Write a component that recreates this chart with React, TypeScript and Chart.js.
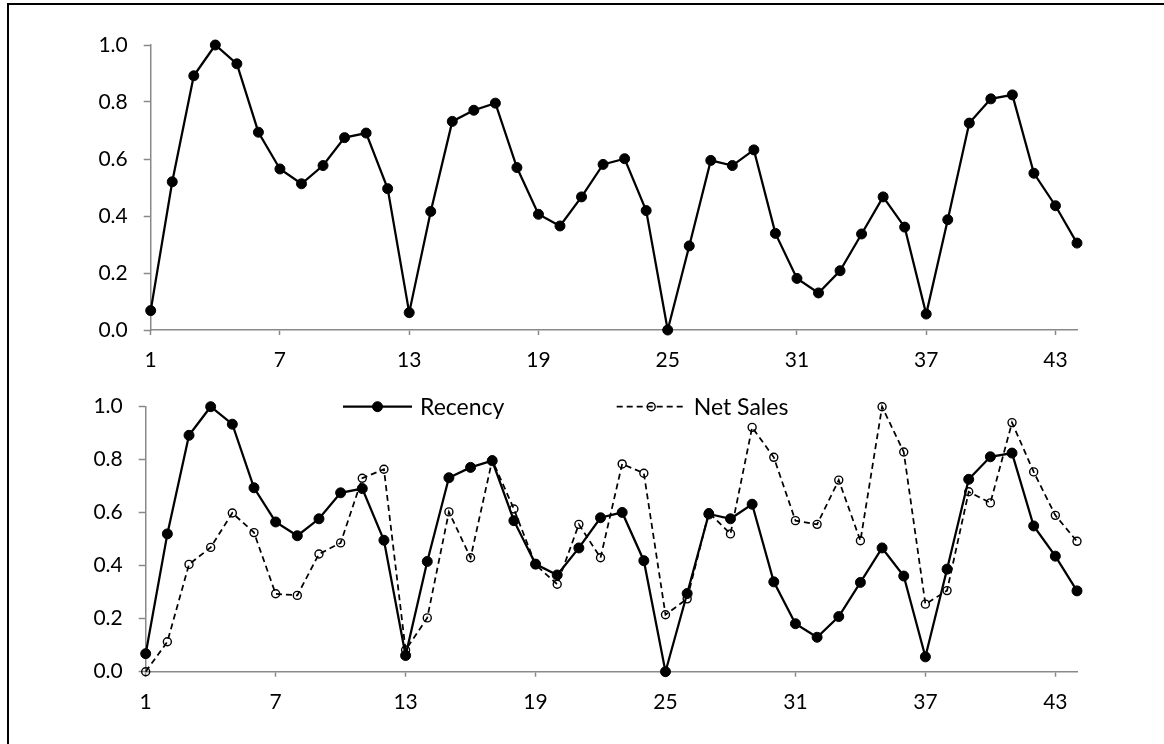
import React, { useEffect, useRef } from 'react';
import { Chart, registerables } from 'chart.js';

Chart.register(...registerables);

// Period numbers along the horizontal axis
const periods = [
  '1', '2', '3', '4', '5', '6', '7', '8', '9', '10', '11',
  '12', '13', '14', '15', '16', '17', '18', '19', '20', '21', '22',
  '23', '24', '25', '26', '27', '28', '29', '30', '31', '32', '33',
  '34', '35', '36', '37', '38', '39', '40', '41', '42', '43', '44',
];

// Normalised recency per period
const recency = [
  0.068, 0.520, 0.892, 1.0, 0.934, 0.694, 0.565, 0.513, 0.577, 0.675, 0.691,
  0.496, 0.061, 0.416, 0.732, 0.771, 0.796, 0.570, 0.406, 0.365, 0.467, 0.581,
  0.601, 0.419, 0.0, 0.295, 0.595, 0.577, 0.632, 0.339, 0.181, 0.130, 0.208,
  0.337, 0.467, 0.361, 0.056, 0.387, 0.726, 0.811, 0.825, 0.550, 0.436, 0.305,
];

// Normalised net sales per period
const netSales = [
  0.0, 0.113, 0.405, 0.469, 0.599, 0.525, 0.294, 0.288, 0.444, 0.486, 0.730,
  0.764, 0.082, 0.203, 0.603, 0.430, 0.799, 0.614, 0.404, 0.330, 0.556, 0.430,
  0.784, 0.749, 0.215, 0.275, 0.600, 0.520, 0.922, 0.809, 0.570, 0.556, 0.723,
  0.494, 1.0, 0.829, 0.255, 0.306, 0.679, 0.637, 0.940, 0.754, 0.590, 0.492,
];

// Value axis: 0.0 to 1.0 in steps of 0.2; period labels every 6th period
const yMin = 0;
const yMax = 1;
const yStep = 0.2;
const periodLabelEvery = 6;

const AXIS_GREY = '#898989';
const INK = '#000000';
const FONT = 'Lato';
const TICK_SIZE = 21;
const CANVAS_W = 1164;
const Y_AXIS_W = 60;
const X_AXIS_H = 40;

type Area = { left: number; top: number; right: number; bottom: number };

// Legend drawn inside the top edge of the plot: line, marker, then label
const inlineLegend = {
  id: 'inlineLegend',
  afterDraw(chart: any, _args: any, opts: any) {
    if (!opts || !opts.starts) return;
    const { ctx, chartArea } = chart;
    const y = chartArea.top;
    const segLen = opts.segment;
    chart.data.datasets.forEach((ds: any, i: number) => {
      const x0 = opts.starts[i];
      if (x0 === undefined) return;
      ctx.save();
      ctx.strokeStyle = ds.borderColor;
      ctx.lineWidth = ds.borderWidth;
      ctx.setLineDash(ds.borderDash || []);
      ctx.beginPath();
      ctx.moveTo(x0, y);
      ctx.lineTo(x0 + segLen, y);
      ctx.stroke();
      ctx.setLineDash([]);
      ctx.beginPath();
      ctx.arc(x0 + segLen / 2, y, ds.pointRadius, 0, Math.PI * 2);
      ctx.fillStyle = ds.pointBackgroundColor;
      ctx.fill();
      ctx.lineWidth = ds.pointBorderWidth;
      ctx.strokeStyle = ds.pointBorderColor;
      ctx.stroke();
      ctx.fillStyle = INK;
      ctx.font = `${opts.fontSize}px ${FONT}`;
      ctx.textBaseline = 'middle';
      ctx.textAlign = 'left';
      ctx.fillText(ds.label, x0 + segLen + opts.gap, y + 1);
      ctx.restore();
    });
  },
};

function recencySet() {
  return {
    label: 'Recency',
    data: recency,
    borderColor: INK,
    backgroundColor: INK,
    borderWidth: 2.25,
    pointRadius: 5,
    pointBackgroundColor: INK,
    pointBorderColor: INK,
    pointBorderWidth: 1,
    tension: 0,
    clip: false,
    order: 1,
  };
}

function netSalesSet() {
  return {
    label: 'Net Sales',
    data: netSales,
    borderColor: INK,
    backgroundColor: 'rgba(0,0,0,0)',
    borderWidth: 1.75,
    borderDash: [6, 4],
    pointRadius: 4,
    pointBackgroundColor: 'rgba(0,0,0,0)',
    pointBorderColor: INK,
    pointBorderWidth: 1.4,
    tension: 0,
    clip: false,
    order: 0,
  };
}

function buildConfig(area: Area, canvasH: number, datasets: any[], legend?: any) {
  return {
    type: 'line' as const,
    data: { labels: periods, datasets },
    plugins: legend ? [inlineLegend] : [],
    options: {
      responsive: false,
      animation: false,
      events: [],
      layout: {
        padding: {
          left: area.left - Y_AXIS_W,
          top: area.top,
          right: CANVAS_W - area.right,
          bottom: canvasH - area.bottom - X_AXIS_H,
        },
      },
      plugins: {
        legend: { display: false },
        tooltip: { enabled: false },
        inlineLegend: legend || {},
      },
      scales: {
        x: {
          type: 'category',
          offset: false,
          border: { display: true, color: AXIS_GREY, width: 1.5 },
          grid: {
            display: true,
            drawOnChartArea: false,
            drawTicks: true,
            tickLength: 5,
            tickWidth: 1.5,
            color: AXIS_GREY,
            tickColor: (c: any) => (c.index % periodLabelEvery === 0 ? AXIS_GREY : 'rgba(0,0,0,0)'),
          },
          ticks: {
            autoSkip: false,
            maxRotation: 0,
            padding: 13,
            color: INK,
            font: { family: FONT, size: TICK_SIZE },
            callback: (_v: any, i: number) => (i % periodLabelEvery === 0 ? periods[i] : ''),
          },
          afterFit: (s: any) => {
            s.height = X_AXIS_H;
          },
        },
        y: {
          min: yMin,
          max: yMax,
          border: { display: true, color: AXIS_GREY, width: 1.5 },
          grid: {
            display: true,
            drawOnChartArea: false,
            drawTicks: true,
            tickLength: 7,
            tickWidth: 1.5,
            color: AXIS_GREY,
          },
          ticks: {
            stepSize: yStep,
            padding: 16,
            color: INK,
            font: { family: FONT, size: TICK_SIZE },
            callback: (v: any) => Number(v).toFixed(1),
          },
          afterFit: (s: any) => {
            s.width = Y_AXIS_W;
          },
        },
      },
    },
  };
}

function ChartPanel(props: { top: number; height: number; area: Area; datasets: () => any[]; legend?: any }) {
  const ref = useRef<HTMLCanvasElement>(null);
  useEffect(() => {
    if (!ref.current) return;
    const chart = new Chart(ref.current, buildConfig(props.area, props.height, props.datasets(), props.legend) as any);
    return () => chart.destroy();
  }, []);
  return (
    <canvas
      ref={ref}
      width={CANVAS_W}
      height={props.height}
      style={{ position: 'absolute', left: 0, top: props.top, width: CANVAS_W, height: props.height, display: 'block' }}
    />
  );
}

export default function App() {
  return (
    <div style={{ position: 'fixed', left: 0, top: 0, width: 1164, height: 744, overflow: 'hidden', background: '#fff' }}>
      <div
        style={{
          position: 'absolute',
          left: 7,
          top: 3,
          width: 1200,
          height: 800,
          border: '2px solid #000',
          boxSizing: 'border-box',
        }}
      />
      <ChartPanel
        top={0}
        height={372}
        area={{ left: 150.7, top: 45, right: 1077, bottom: 330 }}
        datasets={() => [recencySet()]}
      />
      <ChartPanel
        top={372}
        height={372}
        area={{ left: 145.7, top: 34.7, right: 1077, bottom: 299.7 }}
        datasets={() => [recencySet(), netSalesSet()]}
        legend={{ starts: [343, 616.7], segment: 69, gap: 8, fontSize: 23 }}
      />
    </div>
  );
}
